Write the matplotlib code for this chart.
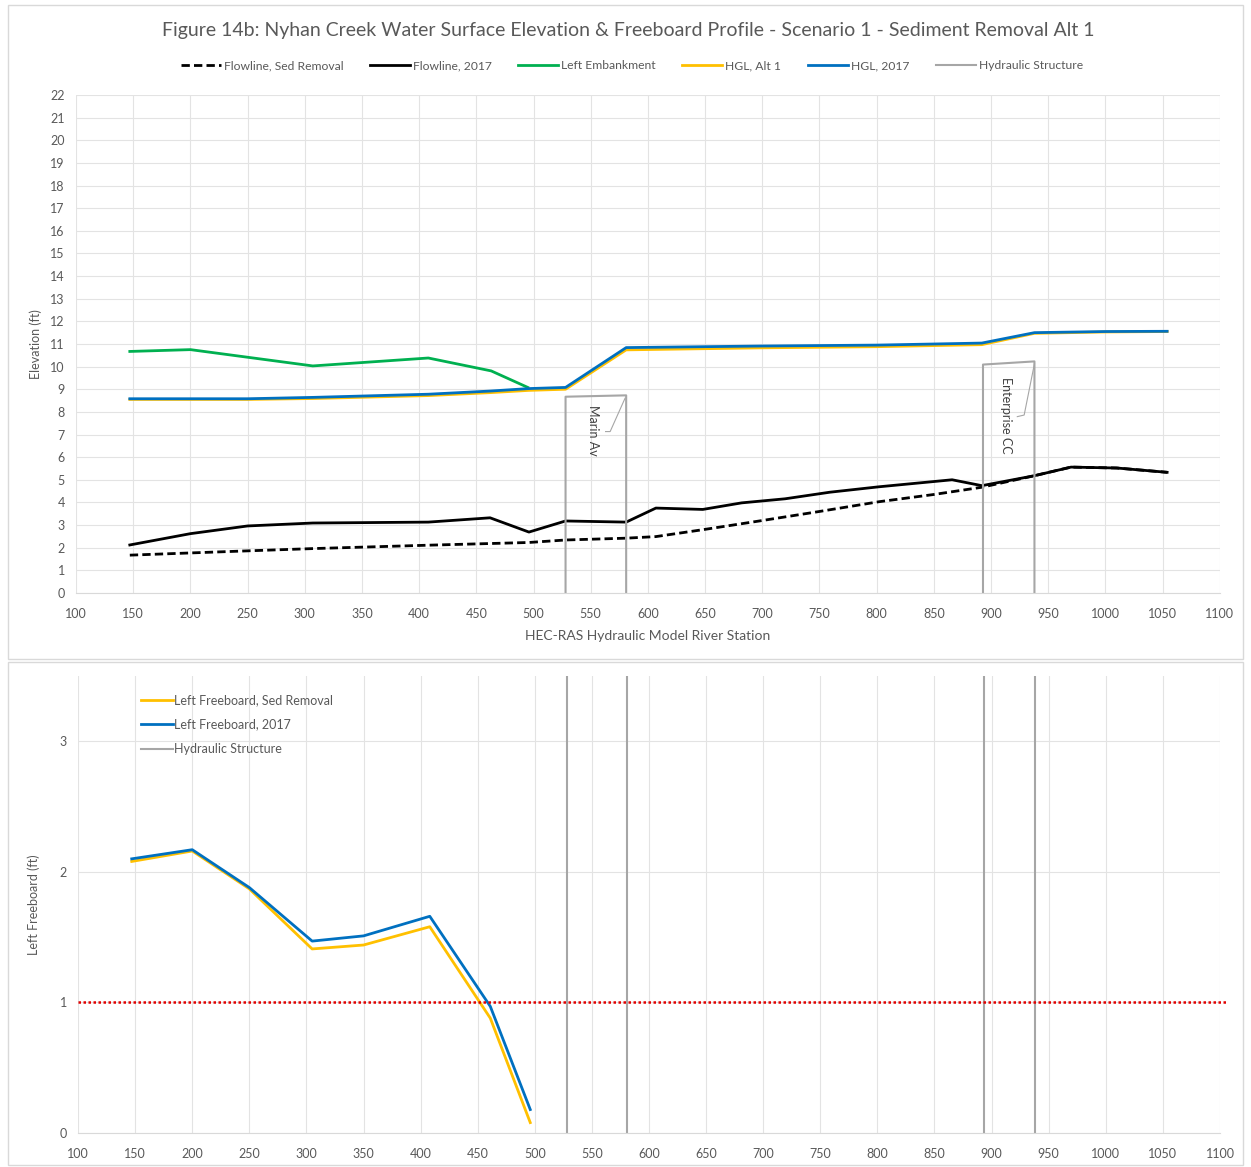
import matplotlib
matplotlib.use("Agg")
from matplotlib import pyplot as plt
from matplotlib.patches import Rectangle

plt.rcParams['font.family'] = ['Lato', 'DejaVu Sans']

# --- profile data (river station / elevation, ft) ---
emb_sta = [147, 200, 307, 408, 463, 495]
emb_elev = [10.67, 10.75, 10.03, 10.38, 9.81, 9.08]

fl17_sta = [147, 200, 250, 307, 408, 462, 496, 528, 581, 607, 648, 682, 720, 759, 802, 866, 892, 938, 970, 1010, 1054]
fl17_elev = [2.12, 2.62, 2.96, 3.09, 3.13, 3.32, 2.69, 3.18, 3.13, 3.75, 3.69, 3.98, 4.16, 4.45, 4.69, 5.0, 4.74, 5.18, 5.56, 5.52, 5.33]

flsed_sta = [147, 250, 307, 408, 496, 528, 581, 607, 650, 700, 750, 802, 850, 892, 938, 970, 1010, 1054]
flsed_elev = [1.67, 1.86, 1.96, 2.11, 2.23, 2.34, 2.42, 2.49, 2.81, 3.2, 3.6, 4.03, 4.35, 4.67, 5.18, 5.56, 5.52, 5.33]

hgl_sta = [147, 200, 250, 307, 408, 462, 496, 528, 581, 700, 800, 892, 938, 1000, 1054]
hgl17 = [8.58, 8.58, 8.58, 8.64, 8.78, 8.92, 9.03, 9.08, 10.84, 10.91, 10.95, 11.04, 11.5, 11.55, 11.56]
hgl_alt1 = [8.55, 8.55, 8.55, 8.59, 8.72, 8.85, 8.95, 9.0, 10.74, 10.83, 10.88, 10.97, 11.47, 11.53, 11.55]

# hydraulic structures: upstream / downstream face stations and deck top
marin_sta = [528, 528, 581, 581]
marin_elev = [0, 8.67, 8.73, 0]
ent_sta = [893, 893, 938, 938]
ent_elev = [0, 10.09, 10.23, 0]

# --- freeboard data ---
fb_sta = [147, 200, 250, 305, 350, 408, 461, 496]
fb17 = [2.10, 2.17, 1.88, 1.47, 1.51, 1.66, 0.97, 0.18]
fb_sed = [2.08, 2.16, 1.87, 1.41, 1.44, 1.58, 0.88, 0.08]
struct_sta = [528, 581, 893, 938]

GREEN = '#00b050'
YELLOW = '#ffc000'
BLUE = '#0070c0'
GRAY = '#a6a6a6'
TXT = '#595959'
GRID = '#e3e3e3'

fig = plt.figure(figsize=(12.51, 11.67), dpi=100)

# chart-area frames
for y0, h in [(0.435, 0.561), (0.002, 0.431)]:
    fig.patches.append(Rectangle((0.006, y0), 0.988, h, transform=fig.transFigure,
                                 fill=False, edgecolor='#d9d9d9', lw=1))

fig.text(0.502, 0.974, "Figure 14b: Nyhan Creek Water Surface Elevation & Freeboard Profile - Scenario 1 - Sediment Removal Alt 1",
         ha='center', va='center', fontsize=14, color=TXT)

# ---------------- top: elevation profile ----------------
ax = fig.add_axes([0.0608, 0.4919, 0.9142, 0.4267])
ax.plot(flsed_sta, flsed_elev, color='black', lw=2, ls=(0, (3, 1.5)), label='Flowline, Sed Removal')
ax.plot(fl17_sta, fl17_elev, color='black', lw=2, label='Flowline, 2017')
ax.plot(emb_sta, emb_elev, color=GREEN, lw=2, label='Left Embankment')
ax.plot(hgl_sta, hgl_alt1, color=YELLOW, lw=2, label='HGL, Alt 1')
ax.plot(hgl_sta, hgl17, color=BLUE, lw=2, label='HGL, 2017')
ax.plot(marin_sta, marin_elev, color=GRAY, lw=1.5, label='Hydraulic Structure')
ax.plot(ent_sta, ent_elev, color=GRAY, lw=1.5)

ax.text(552, 7.17, "Marin Av", rotation=-90, ha='center', va='center', fontsize=9, color='#404040')
ax.plot([563, 567, 580], [7.13, 7.13, 8.6], color=GRAY, lw=0.8)
ax.text(913, 7.83, "Enterprise CC", rotation=-90, ha='center', va='center', fontsize=9, color='#404040')
ax.plot([923, 929, 938], [7.79, 7.86, 10.13], color=GRAY, lw=0.8)

ax.set_xlim(100, 1100)
ax.set_ylim(0, 22)
ax.set_xticks(range(100, 1101, 50))
ax.set_yticks(range(0, 23))
ax.grid(True, color=GRID, lw=0.8)
ax.set_axisbelow(True)
for s in ['top', 'right', 'left']:
    ax.spines[s].set_visible(False)
ax.spines['bottom'].set_color('#d9d9d9')
ax.tick_params(axis='y', length=0, labelsize=9, colors=TXT, pad=8)
ax.tick_params(axis='x', length=0, labelsize=9, colors=TXT, pad=11)
ax.set_xlabel("HEC-RAS Hydraulic Model River Station", fontsize=10, color=TXT, labelpad=7)
ax.set_ylabel("Elevation (ft)", fontsize=9, color=TXT, labelpad=6)
fig.legend(*ax.get_legend_handles_labels(), loc='center', bbox_to_anchor=(0.505, 0.9435), ncol=6,
           frameon=False, fontsize=8.7, handlelength=3.3, handletextpad=0.25, columnspacing=2.2,
           labelcolor=TXT)

# ---------------- bottom: freeboard ----------------
bx = fig.add_axes([0.0624, 0.0291, 0.9128, 0.3916])
bx.plot(fb_sta, fb_sed, color=YELLOW, lw=2, label='Left Freeboard, Sed Removal')
bx.plot(fb_sta, fb17, color=BLUE, lw=2, label='Left Freeboard, 2017')
for i, s in enumerate(struct_sta):
    bx.plot([s, s], [0, 3.5], color=GRAY, lw=1.5, label='Hydraulic Structure' if i == 0 else None)
bx.plot([100, 1105], [1, 1], color='#e00000', lw=1.8, ls=(0, (1, 1)), clip_on=False)

bx.set_xlim(100, 1100)
bx.set_ylim(0, 3.5)
bx.set_xticks(range(100, 1101, 50))
bx.set_yticks([0, 1, 2, 3])
bx.grid(True, color=GRID, lw=0.8)
bx.set_axisbelow(True)
for s in ['top', 'right', 'left']:
    bx.spines[s].set_visible(False)
bx.spines['bottom'].set_color('#d9d9d9')
bx.tick_params(axis='y', length=0, labelsize=9, colors=TXT, pad=8)
bx.tick_params(axis='x', length=0, labelsize=9, colors=TXT, pad=11)
bx.set_ylabel("Left Freeboard (ft)", fontsize=9, color=TXT, labelpad=14)
bx.legend(loc='upper left', bbox_to_anchor=(0.045, 0.985), frameon=False, fontsize=9,
          handlelength=2.6, handletextpad=0.1, labelspacing=1.0, labelcolor=TXT)

fig.savefig("out.png", dpi=100)
